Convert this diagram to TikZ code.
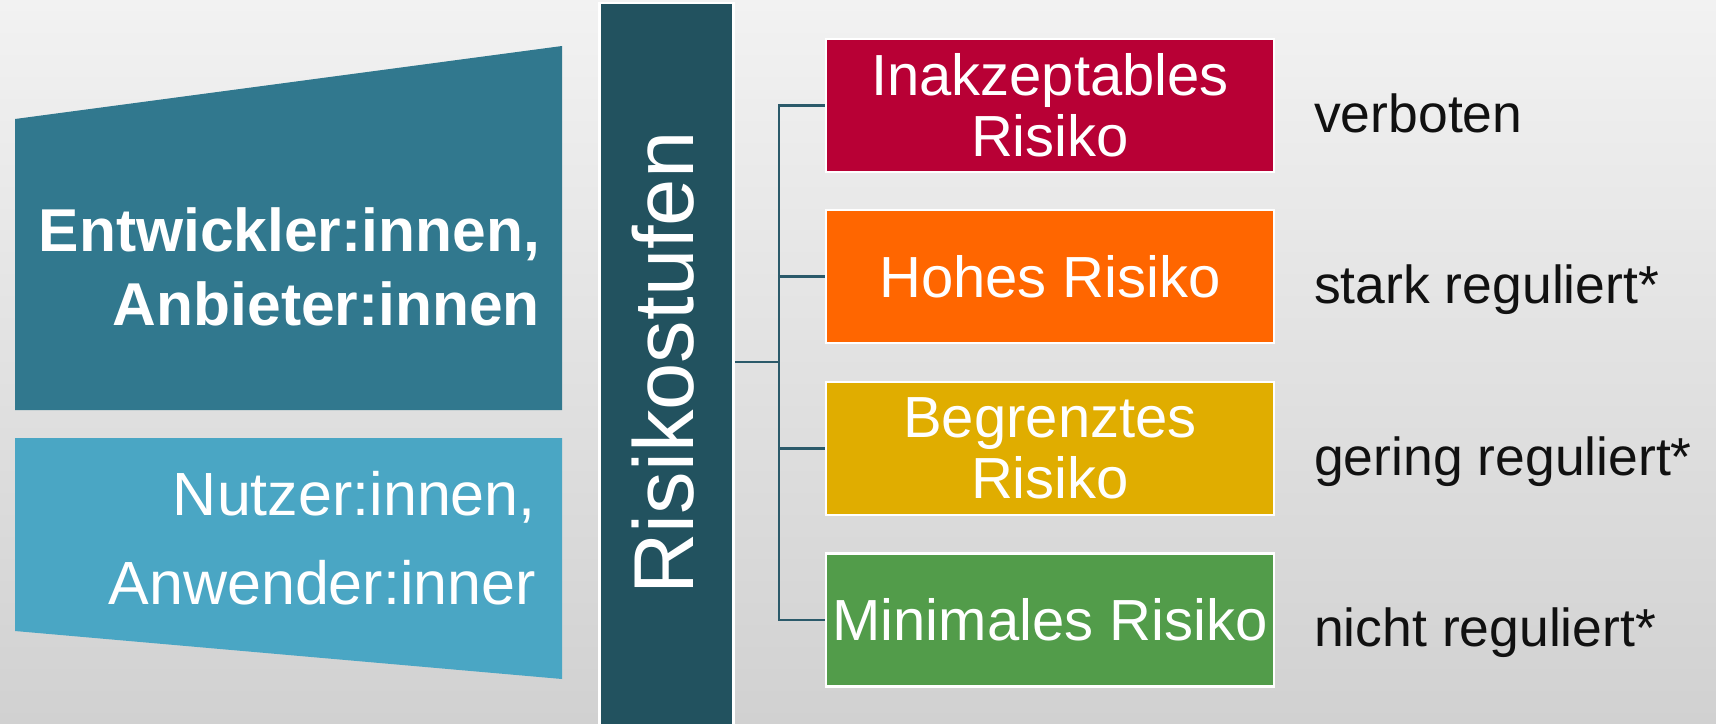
\documentclass[tikz,border=0pt]{standalone}
\usepackage{fontspec}
\setmainfont{Liberation Sans}
\definecolor{bgtop}{HTML}{F2F2F2}
\definecolor{bgbot}{HTML}{D1D1D1}
\definecolor{devcol}{HTML}{31788E}
\definecolor{usercol}{HTML}{4AA6C4}
\definecolor{barcol}{HTML}{22525F}
\definecolor{conncol}{HTML}{2B5A6A}
\definecolor{redcol}{HTML}{B80035}
\definecolor{orangecol}{HTML}{FF6600}
\definecolor{yellowcol}{HTML}{E0AD00}
\definecolor{greencol}{HTML}{529C4A}
\definecolor{labcol}{HTML}{111111}
\tikzset{
  riskbox/.style={draw=white, line width=2.5pt, minimum width=448pt, minimum height=133pt,
    inner sep=1pt, text=white, align=center, font=\fontsize{58}{61}\selectfont},
  leftbold/.style={inner sep=0pt, anchor=base east, text=white, font=\fontsize{60.5}{74}\selectfont\bfseries},
  leftreg/.style={inner sep=0pt, anchor=base east, text=white, font=\fontsize{61}{74}\selectfont},
  rightlab/.style={inner sep=0pt, anchor=base west, text=labcol, font=\fontsize{53.5}{60}\selectfont},
  conn/.style={draw=conncol, line width=2.8pt},
}
\begin{document}
\begin{tikzpicture}[x=1pt,y=-1pt]
\useasboundingbox (0,0) rectangle (1716,723);
\clip (0,0) rectangle (1716,723);
\shade[top color=bgtop, bottom color=bgbot] (0,0) rectangle (1716,723);

% left trapezoids
\fill[devcol] (15,119) -- (562,46) -- (562,410) -- (15,410) -- cycle;
\fill[usercol] (15,438) -- (562,438) -- (562,679) -- (15,631) -- cycle;
\node[leftbold] (dev1) at (540,251) {Entwickler:innen,};
\node[leftbold] (dev2) at (540,325) {Anbieter:innen};
\node[leftreg] (use1) at (536,515) {Nutzer:innen,};
\node[leftreg] (use2) at (536,604) {Anwender:inner};

% central bar
\node[fill=barcol, draw=white, line width=2.5pt, minimum width=134pt, minimum height=740pt, inner sep=0pt] (bar) at (666.5,373) {};
\node[rotate=90, anchor=base, inner sep=0pt, text=white, font=\fontsize{85}{90}\selectfont] (bartext) at (693,363) {Risikostufen};

% risk boxes
\node[riskbox, fill=redcol] (r1) at (1050,105.5) {Inakzeptables\\Risiko};
\node[riskbox, fill=orangecol] (r2) at (1050,276.5) {Hohes Risiko};
\node[riskbox, fill=yellowcol] (r3) at (1050,448.5) {Begrenztes\\Risiko};
\node[riskbox, fill=greencol] (r4) at (1050,620) {Minimales Risiko};

% connectors
\coordinate (j) at (779,362);
\draw[conn] (bar.east |- j) -- (j);
\draw[conn] (j) |- (r1.west);
\draw[conn] (j) |- (r2.west);
\draw[conn] (j) |- (r3.west);
\draw[conn] (j) |- (r4.west);

% right labels
\node[rightlab] (l1) at (1314,132) {verboten};
\node[rightlab] (l2) at (1314,303) {stark reguliert*};
\node[rightlab] (l3) at (1314,475) {gering reguliert*};
\node[rightlab] (l4) at (1314,646) {nicht reguliert*};
\end{tikzpicture}
\end{document}
